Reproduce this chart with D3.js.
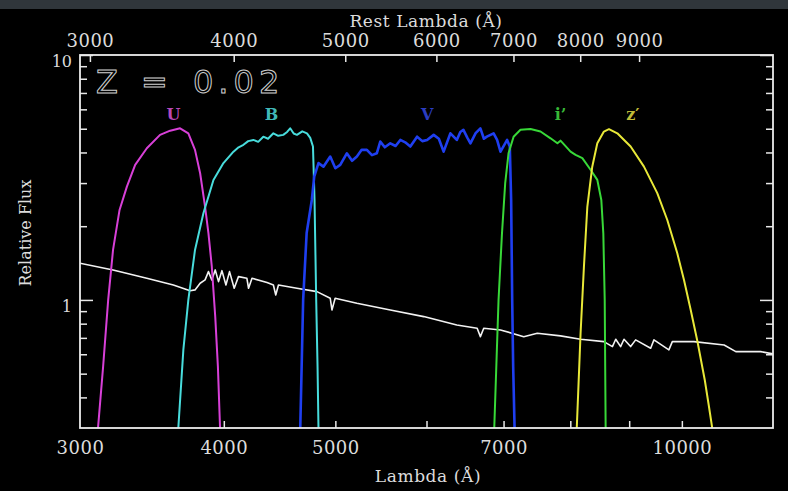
<!DOCTYPE html>
<html>
<head>
<meta charset="utf-8">
<script src="https://cdn.jsdelivr.net/npm/d3@7"></script>
<style>
html, body { margin: 0; padding: 0; background: #000; overflow: hidden; }
svg { display: block; }
text { font-family: "DejaVu Serif", serif; fill: #dcdcdc; }
</style>
</head>
<body>
<svg width="788" height="491"></svg>
<script>
// filter curves, observed wavelength (A) and relative flux
var uWave = [3110, 3142, 3174, 3205, 3247, 3295, 3350, 3429, 3521, 3593, 3665, 3726, 3776, 3815, 3853, 3879, 3905, 3932, 3953, 3970];
var uFlux = [0.3, 0.534, 1.0, 1.60, 2.33, 2.90, 3.56, 4.16, 4.72, 4.91, 5.02, 4.79, 4.10, 3.29, 2.40, 1.87, 1.37, 0.855, 0.534, 0.3];

var bWave = [3652, 3689, 3726, 3776, 3840, 3918, 3997, 4078, 4120, 4160, 4200, 4244, 4285, 4329, 4370, 4417, 4460, 4505, 4540, 4568, 4600, 4630, 4680, 4724, 4755, 4781, 4796, 4812, 4825, 4834];
var bFlux = [0.3, 0.625, 1.0, 1.60, 2.26, 3.09, 3.62, 4.03, 4.2, 4.30, 4.45, 4.50, 4.42, 4.64, 4.55, 4.79, 4.68, 4.72, 4.85, 5.02, 4.78, 4.72, 4.88, 4.79, 4.59, 4.23, 2.56, 1.0, 0.534, 0.3];

var vWave = [4661, 4688, 4721, 4770, 4793, 4834, 4882, 4949, 5000, 5049, 5116, 5170, 5220, 5270, 5325, 5380, 5432, 5470, 5520, 5581, 5640, 5694, 5750, 5809, 5888, 5950, 6007, 6087, 6150, 6209, 6294, 6375, 6420, 6460, 6510, 6551, 6620, 6683, 6730, 6770, 6862, 6910, 6957, 7050, 7088, 7107, 7122, 7136, 7156];
var vFlux = [0.3, 1.0, 1.877, 2.56, 3.19, 3.62, 3.50, 3.85, 3.45, 3.56, 3.97, 3.7, 3.85, 4.1, 4.10, 3.9, 3.97, 4.43, 4.2, 4.36, 4.25, 4.50, 4.4, 4.23, 4.64, 4.45, 4.50, 4.72, 4.55, 4.03, 4.79, 4.50, 4.85, 4.95, 4.6, 4.36, 4.8, 5.02, 4.55, 4.64, 4.79, 4.5, 4.03, 4.50, 4.23, 2.56, 1.0, 0.534, 0.3];

var iWave = [6871, 6930, 6978, 7023, 7070, 7142, 7241, 7388, 7537, 7690, 7796, 7845, 8004, 8085, 8195, 8331, 8444, 8512, 8546, 8570, 8586];
var iFlux = [0.3, 1.0, 1.87, 3.00, 3.97, 4.64, 4.95, 4.99, 4.87, 4.57, 4.36, 4.47, 4.03, 3.91, 3.79, 3.40, 3.09, 2.56, 1.87, 1.0, 0.3];

var zWave = [8104, 8166, 8221, 8277, 8359, 8444, 8556, 8643, 8789, 9026, 9270, 9520, 9713, 9909, 10043, 10179, 10317, 10469, 10552, 10626];
var zFlux = [0.3, 0.731, 1.368, 2.40, 3.50, 4.36, 4.87, 4.98, 4.79, 4.23, 3.50, 2.73, 2.12, 1.55, 1.207, 0.910, 0.676, 0.471, 0.3725, 0.3];

// galaxy spectrum (white)
var sWave = [3000, 3205, 3429, 3616, 3739, 3776, 3815, 3853, 3879, 3905, 3932, 3958, 3985, 4017, 4046, 4084, 4119, 4189, 4203, 4232, 4361, 4417, 4438, 4462, 4630, 4819, 4949, 4966, 4998, 5220, 5581, 5967, 6375, 6640, 6683, 6728, 6957, 7289, 7488, 7845, 8166, 8556, 8703, 8761, 8847, 8907, 9026, 9117, 9395, 9457, 9744, 9811, 10245, 10882, 11140, 11711, 12000];
var sFlux = [1.412, 1.326, 1.226, 1.151, 1.091, 1.099, 1.170, 1.207, 1.305, 1.207, 1.326, 1.188, 1.317, 1.151, 1.305, 1.116, 1.245, 1.226, 1.116, 1.226, 1.177, 1.151, 1.048, 1.151, 1.116, 1.081, 1.016, 0.910, 1.016, 0.969, 0.910, 0.855, 0.790, 0.766, 0.708, 0.766, 0.754, 0.708, 0.731, 0.713, 0.691, 0.676, 0.645, 0.691, 0.645, 0.691, 0.645, 0.687, 0.635, 0.687, 0.625, 0.676, 0.676, 0.655, 0.615, 0.615, 0.602];

var bandNames = ["U", "B", "V", "i\u2019", "z\u2032"];
var labelWave = [3617, 4400, 6010, 7845, 9068];

var redshift = 0.02;
var bottomTicks = [4000, 5000, 6000, 7000, 8000, 9000, 10000];
var bottomLabels = [3000, 4000, 5000, 7000, 10000];
var topTicks = [3000, 4000, 5000, 6000, 7000, 8000, 9000];
var yMinor = [0.4, 0.5, 0.6, 0.7, 0.8, 0.9, 2, 3, 4, 5, 6, 7, 8, 9];
var yMajor = [1, 10];

var bandWave = [uWave, bWave, vWave, iWave, zWave];
var bandFlux = [uFlux, bFlux, vFlux, iFlux, zFlux];
var lineColors = ["#d840d8", "#48dcdc", "#1f3ff0", "#38d838", "#e8e838"];
var labelColors = ["#b848b8", "#40b8b8", "#2a3cc0", "#38b838", "#c0bc38"];

var bands = bandNames.map(function(n, i) {
  return {name: n, wave: bandWave[i], flux: bandFlux[i], lw: labelWave[i], color: lineColors[i], label: labelColors[i]};
});

var pLeft = 80, pRight = 773, pTop = 55, pBottom = 428;

var svg = d3.select("svg");
svg.append("rect").attr("width", 788).attr("height", 491).attr("fill", "#000");
svg.append("rect").attr("width", 788).attr("height", 9).attr("fill", "#30363b");

var x = d3.scaleLog().domain([3000, 12000]).range([pLeft, pRight]);
var xRest = d3.scaleLog().domain([3000 / (1 + redshift), 12000 / (1 + redshift)]).range([pLeft, pRight]);
var y = d3.scaleLog().domain([0.3, 10]).range([pBottom, pTop]);

svg.append("clipPath").attr("id", "plotclip").append("rect")
  .attr("x", pLeft).attr("y", pTop).attr("width", pRight - pLeft).attr("height", pBottom - pTop);

var line = d3.line()
  .x(function(d) { return x(d[0]); })
  .y(function(d) { return y(d[1]); });

var plot = svg.append("g").attr("clip-path", "url(#plotclip)");

plot.append("path")
  .attr("d", line(d3.zip(sWave, sFlux)))
  .attr("fill", "none").attr("stroke", "#f2f2f2").attr("stroke-width", 1.6)
  .attr("stroke-linejoin", "round");

plot.selectAll("path.band").data(bands).enter().append("path")
  .attr("class", "band")
  .attr("d", function(d) { return line(d3.zip(d.wave, d.flux)); })
  .attr("fill", "none")
  .attr("stroke", function(d) { return d.color; })
  .attr("stroke-width", function(d) { return d.name == "V" ? 2.6 : 2; })
  .attr("stroke-linejoin", "round");

// band labels
svg.selectAll("text.blabel").data(bands).enter().append("text")
  .attr("class", "blabel")
  .attr("x", function(d) { return x(d.lw); })
  .attr("y", 120)
  .attr("text-anchor", "middle")
  .style("font-size", "16px").style("font-weight", "bold")
  .style("fill", function(d) { return d.label; })
  .text(function(d) { return d.name; });

// axes
function styleAxis(g) {
  g.select(".domain").remove();
  g.selectAll(".tick line").attr("stroke", "#e8e8e8").attr("stroke-width", 1.5);
  g.selectAll(".tick text").style("font-family", "DejaVu Serif, serif").style("font-size", "18px")
    .style("letter-spacing", "0.5px").attr("fill", "#dcdcdc");
}

svg.append("g").attr("transform", "translate(0," + pBottom + ")")
  .call(d3.axisBottom(x).tickValues(bottomTicks).tickSize(-7).tickFormat(function() { return ""; }))
  .call(styleAxis);
svg.append("g").attr("transform", "translate(0," + pBottom + ")")
  .call(d3.axisBottom(x).tickValues(bottomLabels).tickSize(0).tickPadding(13).tickFormat(d3.format("d")))
  .call(styleAxis);

svg.append("g").attr("transform", "translate(0," + pTop + ")")
  .call(d3.axisTop(xRest).tickValues(topTicks).tickSize(-7).tickPadding(8).tickFormat(d3.format("d")))
  .call(styleAxis);

svg.append("g").attr("transform", "translate(" + pLeft + ",0)")
  .call(d3.axisLeft(y).tickValues(yMinor).tickSize(-7).tickFormat(function() { return ""; }))
  .call(styleAxis);
svg.append("g").attr("transform", "translate(" + pLeft + ",0)")
  .call(d3.axisLeft(y).tickValues(yMajor).tickSize(-13).tickPadding(8).tickFormat(d3.format("d")))
  .call(styleAxis)
  .selectAll(".tick text").style("font-size", "16px").style("letter-spacing", "0px").attr("dy", "0.72em");

svg.append("g").attr("transform", "translate(" + pRight + ",0)")
  .call(d3.axisRight(y).tickValues(yMinor).tickSize(-7).tickFormat(function() { return ""; }))
  .call(styleAxis);
svg.append("g").attr("transform", "translate(" + pRight + ",0)")
  .call(d3.axisRight(y).tickValues(yMajor).tickSize(-13).tickFormat(function() { return ""; }))
  .call(styleAxis);

// frame
svg.append("rect")
  .attr("x", pLeft).attr("y", pTop).attr("width", pRight - pLeft).attr("height", pBottom - pTop)
  .attr("fill", "none").attr("stroke", "#ececec").attr("stroke-width", 1.8);

// titles
svg.append("text").attr("x", 426).attr("y", 27).attr("text-anchor", "middle")
  .style("font-size", "17px").style("letter-spacing", "0.6px").text("Rest Lambda (\u00c5)");
svg.append("text").attr("x", 428).attr("y", 482).attr("text-anchor", "middle")
  .style("font-size", "17px").style("letter-spacing", "0.6px").text("Lambda (\u00c5)");
svg.append("text").attr("transform", "translate(31,233) rotate(-90)").attr("text-anchor", "middle")
  .style("font-size", "16px").text("Relative Flux");

// redshift annotation
var zt = svg.append("text").attr("y", 93)
  .style("font-family", "DejaVu Sans, sans-serif").style("font-size", "32px")
  .style("fill", "none").attr("stroke", "#cfcfcf").attr("stroke-width", 1);
zt.append("tspan").attr("x", 96).text("Z");
zt.append("tspan").attr("x", 141).text("=");
zt.append("tspan").attr("x", 193).style("letter-spacing", "5px").text(d3.format(".2f")(redshift));
</script>
</body>
</html>
